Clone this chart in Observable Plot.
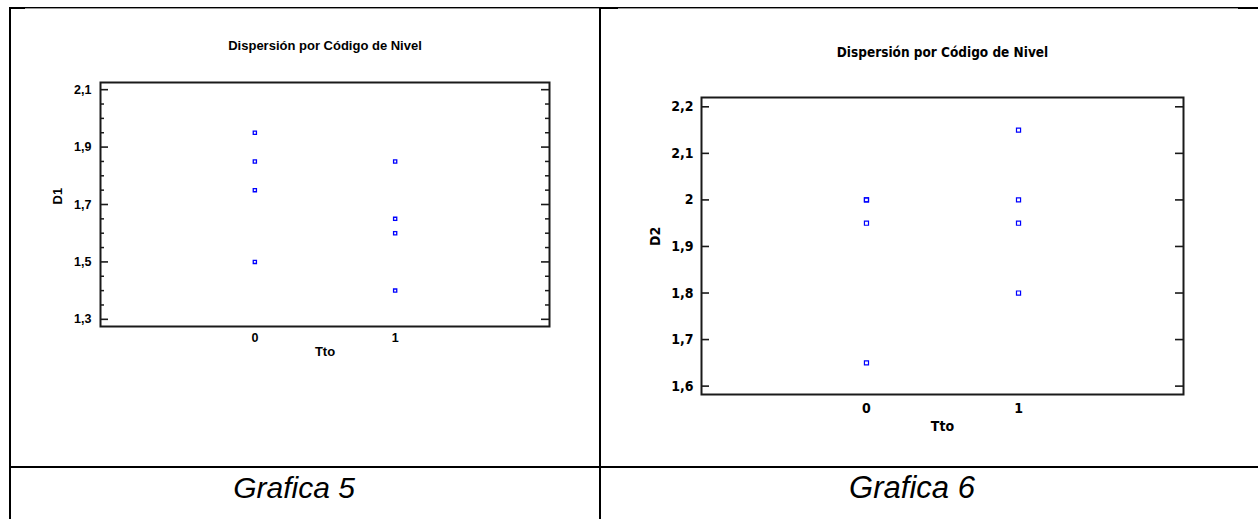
<!DOCTYPE html>
<html>
<head>
<meta charset="utf-8">
<script src="https://cdn.jsdelivr.net/npm/d3@7"></script>
<script src="https://cdn.jsdelivr.net/npm/@observablehq/plot@0.6"></script>
<style>
  html, body { margin: 0; padding: 0; background: #fff; }
  #page { position: relative; width: 1258px; height: 519px; overflow: hidden; background: #fff; }
  .ln { position: absolute; background: #000; z-index: 5; }
  .chart { position: absolute; top: 0; z-index: 1; }
  .cap { position: absolute; top: 468px; font-family: "Liberation Sans", Arial, sans-serif; font-style: italic; font-size: 30px; color: #000; text-align: center; line-height: 40px; }
</style>
</head>
<body>
<div id="page">
  <div id="c1" class="chart" style="left:0px;"></div>
  <div id="c2" class="chart" style="left:600px;"></div>
  <!-- table lines -->
  <div class="ln" style="left:9px; top:7px; width:1249px; height:1px;"></div>
  <div class="ln" style="left:9px; top:8px; width:1249px; height:1px; background:#9a9a9a;"></div>
  <div class="ln" style="left:9px; top:7px; width:16px; height:2px;"></div>
  <div class="ln" style="left:600px; top:7px; width:18px; height:2px;"></div>
  <div class="ln" style="left:1238px; top:7px; width:20px; height:2px;"></div>
  <div class="ln" style="left:9px; top:7px; width:2px; height:512px;"></div>
  <div class="ln" style="left:599px; top:7px; width:2px; height:512px;"></div>
  <div class="ln" style="left:9px; top:466px; width:1249px; height:2px;"></div>
  <div class="cap" style="left:194px; width:200px;">Grafica 5</div>
  <div class="cap" style="left:812px; width:200px; font-size:31px;">Grafica 6</div>
</div>
<script>
// ---- data ----
const tto = [0, 0, 0, 0, 1, 1, 1, 1];
const d1 = [1.95, 1.85, 1.75, 1.5, 1.85, 1.65, 1.6, 1.4];
const d2 = [2.0, 2.0, 1.95, 1.65, 2.15, 2.0, 1.95, 1.8];
const xTicks = [0, 1];
const d1Ticks = [1.3, 1.5, 1.7, 1.9, 2.1];
const d1Minor = [1.35, 1.4, 1.45, 1.55, 1.6, 1.65, 1.75, 1.8, 1.85, 1.95, 2.0, 2.05];
const d2Ticks = [1.6, 1.7, 1.8, 1.9, 2.0, 2.1, 2.2];
const titleText = "Dispersión por Código de Nivel";
const xLabel = "Tto";
const y1Label = "D1";
const y2Label = "D2";

const fmt = d => String(d).replace(".", ",");

function makeChart(cfg) {
  const rows = tto.map((t, i) => ({tto: t, v: cfg.values[i]}));
  const plotW = cfg.width - cfg.ml - cfg.mr;
  const frameColor = "#1a1a1a";
  const marks = [
    Plot.frame({stroke: frameColor, strokeWidth: cfg.frameW}),
    // major ticks, inward on both sides
    Plot.tickY(cfg.ticks, {y: d => d, insetRight: plotW - 8, stroke: frameColor, strokeWidth: 1.6}),
    Plot.tickY(cfg.ticks, {y: d => d, insetLeft: plotW - 8, stroke: frameColor, strokeWidth: 1.6}),
  ];
  if (cfg.minor) {
    marks.push(Plot.tickY(cfg.minor, {y: d => d, insetRight: plotW - 4, stroke: frameColor, strokeWidth: 1.5}));
    marks.push(Plot.tickY(cfg.minor, {y: d => d, insetLeft: plotW - 4, stroke: frameColor, strokeWidth: 1.5}));
  }
  marks.push(
    Plot.axisY({ticks: cfg.ticks, tickSize: 0, tickPadding: cfg.yPad, tickFormat: fmt, label: null, fontSize: cfg.tickFont, fontFamily: cfg.font, fontWeight: "bold"}),
    Plot.axisX({ticks: xTicks, tickSize: 0, tickPadding: cfg.xPad, tickFormat: d => String(d), label: null, fontSize: cfg.tickFont, fontFamily: cfg.font, fontWeight: "bold"}),
    Plot.dot(rows, {x: "tto", y: "v", symbol: "square", r: cfg.r, stroke: "#0000ff", strokeWidth: cfg.dotW, fill: "none"}),
    Plot.text([titleText], {text: d => d, frameAnchor: "top", dy: cfg.titleDy, fontSize: cfg.titleFont, fontWeight: "bold", fontFamily: cfg.font, fill: "#000"}),
    Plot.text([xLabel], {text: d => d, frameAnchor: "bottom", dy: cfg.xLabDy, fontSize: cfg.labFont, fontWeight: "bold", fontFamily: cfg.font, fill: "#000"}),
    Plot.text([cfg.yLabel], {text: d => d, frameAnchor: "left", dx: cfg.yLabDx, rotate: -90, fontSize: cfg.labFont, fontWeight: "bold", fontFamily: cfg.font, fill: "#000"})
  );
  return Plot.plot({
    width: cfg.width,
    height: cfg.height,
    marginLeft: cfg.ml,
    marginRight: cfg.mr,
    marginTop: cfg.mt,
    marginBottom: cfg.mb,
    x: {domain: cfg.xDomain},
    y: {domain: cfg.yDomain},
    style: {background: "transparent", fontFamily: cfg.font, fontWeight: "bold", color: "#000", fontSize: cfg.tickFont + "px"},
    marks
  });
}

document.getElementById("c1").appendChild(makeChart({
  values: d1, ticks: d1Ticks, minor: d1Minor, yLabel: y1Label,
  width: 600, height: 467, ml: 100, mr: 51, mt: 82, mb: 141,
  xDomain: [-1.1, 2.1], yDomain: [1.275, 2.125],
  font: "'Liberation Sans', Arial, sans-serif",
  tickFont: 12.5, titleFont: 13, labFont: 13, frameW: 2,
  yPad: 9, xPad: 7, titleDy: -42, xLabDy: 29, yLabDx: -43, r: 1.8, dotW: 1.3
}));

document.getElementById("c2").appendChild(makeChart({
  values: d2, ticks: d2Ticks, minor: null, yLabel: y2Label,
  width: 658, height: 467, ml: 101, mr: 75, mt: 97, mb: 73,
  xDomain: [-1.085, 2.085], yDomain: [1.582, 2.22],
  font: "'Liberation Sans Narrow', 'DejaVu Sans Condensed', 'Liberation Sans', Arial, sans-serif",
  tickFont: 14, titleFont: 13.5, labFont: 14, frameW: 2,
  yPad: 8, xPad: 9, titleDy: -50, xLabDy: 36, yLabDx: -46, r: 2.3, dotW: 1.2
}));
</script>
</body>
</html>
